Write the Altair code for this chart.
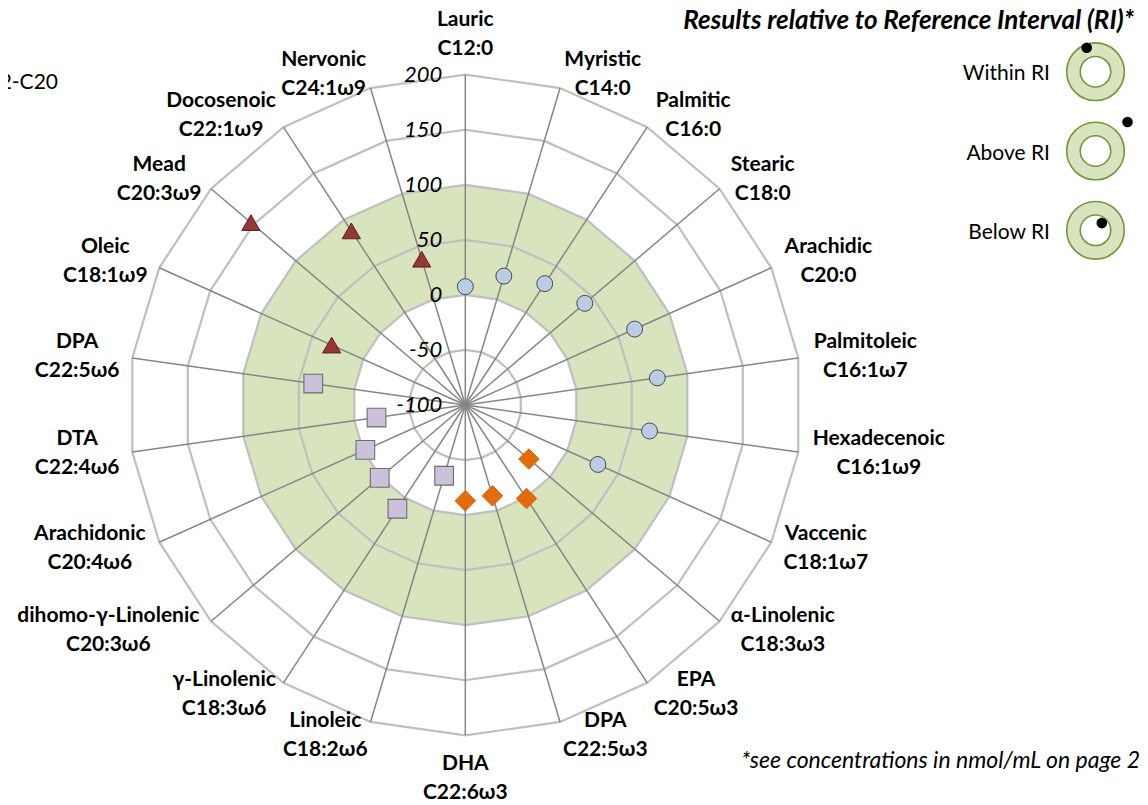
import altair as alt
import pandas as pd

# ---------------- data ----------------
categories = ["Lauric", "Myristic", "Palmitic", "Stearic", "Arachidic", "Palmitoleic",
              "Hexadecenoic", "Vaccenic", "α-Linolenic", "EPA", "DPA", "DHA", "Linoleic",
              "γ-Linolenic", "dihomo-γ-Linolenic", "Arachidonic", "DTA", "DPA", "Oleic",
              "Mead", "Docosenoic", "Nervonic"]
formulas = ["C12:0", "C14:0", "C16:0", "C18:0", "C20:0", "C16:1ω7", "C16:1ω9", "C18:1ω7",
            "C18:3ω3", "C20:5ω3", "C22:5ω3", "C22:6ω3", "C18:2ω6", "C18:3ω6", "C20:3ω6",
            "C20:4ω6", "C22:4ω6", "C22:5ω6", "C18:1ω9", "C20:3ω9", "C22:1ω9", "C24:1ω9"]
values = [7.5, 22, 31, 41, 66, 73, 66, 30,
          -25, 1, -14, -13,
          -33, 12, 1, -2, -20, 37,
          31, 153, 88, 38]
groups = ["SFA", "SFA", "SFA", "SFA", "SFA", "MUFA", "MUFA", "MUFA",
          "ω3", "ω3", "ω3", "ω3",
          "ω6", "ω6", "ω6", "ω6", "ω6", "ω6",
          "ω9", "ω9", "ω9", "ω9"]
ring_values = [-100, -50, 0, 50, 100, 150, 200]
ri_low, ri_high = 0, 100
axis_min, axis_max = -100, 200
legend_labels = ["Within RI", "Above RI", "Below RI"]
legend_title = "Results relative to Reference Interval (RI)*"
footnote = "*see concentrations in nmol/mL on page 2"
side_note = "C12-C20"

N = len(categories)
SPAN = axis_max - axis_min

# ---------------- layout ----------------
W, H = 1132, 797
CX, CY = 465.3 - 8, 405.0 - 8      # centre of the radar in plot pixels
KX, KY = 336.4 / SPAN, 330.3 / SPAN  # px per unit
GAP = 14
LH = 29
FS_LAB = 21

xs = alt.Scale(domain=[-CX / KX, (W - CX) / KX], nice=False, zero=False)
ys = alt.Scale(domain=[-(H - CY) / KY, CY / KY], nice=False, zero=False)


def X(f):
    return alt.X(f, type="quantitative", scale=xs, axis=None)


def Y(f):
    return alt.Y(f, type="quantitative", scale=ys, axis=None)


# approximate advance widths (em) used to centre the two-line labels
CW = {'A': .606, 'C': .529, 'D': .630, 'E': .488, 'H': .631, 'L': .420, 'M': .874,
      'N': .659, 'O': .676, 'P': .532, 'R': .563, 'S': .473, 'T': .495, 'V': .593,
      'a': .494, 'c': .418, 'd': .537, 'e': .503, 'g': .474, 'h': .537, 'i': .246,
      'l': .246, 'm': .813, 'n': .537, 'o': .538, 'r': .355, 's': .399, 't': .347,
      'y': .474, 'u': .537, 'v': .474, 'x': .465, ':': .276, '-': .306, ' ': .226,
      'ω': .76, 'γ': .50, 'α': .58}


def tw(s):
    return sum(CW.get(ch, .507) for ch in s) * 23


th = f"2*PI*datum.k/{N}"

# ---------------- layers ----------------
band_df = pd.DataFrame([(lvl, k) for lvl in [ri_high, ri_low] for k in range(N)],
                       columns=["level", "k"])


def polygon(level, fill):
    return alt.Chart(band_df).transform_filter(f"datum.level == {level}").transform_calculate(
        r=f"datum.level - ({axis_min})", th=th
    ).transform_calculate(
        x="datum.r*sin(datum.th)", y="datum.r*cos(datum.th)"
    ).mark_line(interpolate="linear-closed", fill=fill, strokeOpacity=0).encode(
        x=X("x"), y=Y("y"), order="k:Q"
    )


green = polygon(ri_high, "#d7e4bd")
white = polygon(ri_low, "#ffffff")

ring_df = pd.DataFrame([(lvl, k) for lvl in ring_values for k in range(N)],
                       columns=["level", "k"])
rings = alt.Chart(ring_df).transform_calculate(
    r=f"datum.level - ({axis_min})", th=th
).transform_calculate(
    x="datum.r*sin(datum.th)", y="datum.r*cos(datum.th)"
).mark_line(interpolate="linear-closed", stroke="#bfbfbf", strokeWidth=2.2).encode(
    x=X("x"), y=Y("y"), detail="level:N", order="k:Q"
)

spoke_df = pd.DataFrame({"k": list(range(N))})
spokes = alt.Chart(spoke_df).transform_calculate(
    th=th, xa="0", ya="0"
).transform_calculate(
    xb=f"{SPAN}*sin(datum.th)", yb=f"{SPAN}*cos(datum.th)"
).mark_rule(stroke="#868686", strokeWidth=1.5).encode(
    x=X("xa"), y=Y("ya"), x2="xb:Q", y2="yb:Q"
)

pts_df = pd.DataFrame({"k": list(range(N)), "name": categories, "value": values,
                       "group": groups})
pts_base = alt.Chart(pts_df).transform_calculate(
    r=f"datum.value - ({axis_min})", th=th
).transform_calculate(
    x="datum.r*sin(datum.th)", y="datum.r*cos(datum.th)"
)


def pts(flt, shape, size, fill, stroke, sw):
    return pts_base.transform_filter(flt).mark_point(
        shape=shape, size=size, filled=True, fill=fill, stroke=stroke,
        strokeWidth=sw, opacity=1
    ).encode(x=X("x"), y=Y("y"), tooltip=["name:N", "value:Q"])


circles = pts("datum.group == 'SFA' || datum.group == 'MUFA'", "circle", 254,
              "#b9cde5", "#4a4a4a", 1)
diamonds = pts("datum.group == 'ω3'", "diamond", 420, "#e46c0a", "#d0620a", 1)
squares = pts("datum.group == 'ω6'", "square", 350, "#ccc1da", "#6e6e6e", 1.1)
triangles = pts("datum.group == 'ω9'", "triangle-up", 330, "#953735", "#5e2020", 1)

lab_df = pd.DataFrame({"k": list(range(N)), "name": categories, "formula": formulas})
lab_df["text"] = [a + "\n" + b for a, b in zip(categories, formulas)]
lab_df["w"] = [max(tw(a), tw(b)) for a, b in zip(categories, formulas)]
labels = alt.Chart(lab_df).transform_calculate(
    th=th
).transform_calculate(
    s="sin(datum.th)", c="cos(datum.th)"
).transform_calculate(
    ax=f"{SPAN}*datum.s + {GAP}*datum.s/{KX}",
    ay=f"{SPAN}*datum.c + {GAP}*datum.c/{KY}",
    side="abs(datum.s) < 0.01 ? 0 : (datum.s > 0 ? 1 : -1)",
).transform_calculate(
    lx=f"datum.ax + datum.side*datum.w/2/{KX}",
    # first line sits half a line above the block centre
    ly=f"datum.ay + {LH / 2}/{KY} + (datum.c > 0.99 ? {LH - 3}/{KY} : (datum.c < -0.99 ? -{LH}/{KY} : 0))",
).mark_text(
    align="center", baseline="middle", lineBreak="\n", lineHeight=LH,
    font="Lato", fontWeight="bold", fontSize=FS_LAB, color="#000000"
).encode(x=X("lx"), y=Y("ly"), text="text:N")

tick_df = pd.DataFrame({"level": ring_values})
ticks = alt.Chart(tick_df).transform_calculate(
    x0="0", y0=f"datum.level - ({axis_min})", lab="''+datum.level"
).mark_text(
    align="right", baseline="middle", dx=-23, font="Lato", fontStyle="italic",
    fontSize=22, color="#000000"
).encode(x=X("x0"), y=Y("y0"), text="lab:N")

# ---------------- legend / notes ----------------
one = pd.DataFrame({"a": [0]})
extras = []
extras.append(alt.Chart(pd.DataFrame({"t": [legend_title]})).mark_text(
    align="right", baseline="alphabetic", font="Lato", fontStyle="italic",
    fontWeight="bold", fontSize=26, color="#000000"
).encode(x=alt.value(1126), y=alt.value(21), text="t:N"))
extras.append(alt.Chart(pd.DataFrame({"t": [footnote]})).mark_text(
    align="right", baseline="alphabetic", font="Lato", fontStyle="italic",
    fontSize=23, color="#000000"
).encode(x=alt.value(1132), y=alt.value(760), text="t:N"))
extras.append(alt.Chart(pd.DataFrame({"t": [side_note]})).mark_text(
    align="right", baseline="alphabetic", font="Lato", fontSize=21, color="#000000"
).encode(x=alt.value(50), y=alt.value(81), text="t:N"))

dot_off = [(-8.8, -24.0), (32.0, -29.0), (6.3, -7.2)]
for i, lab in enumerate(legend_labels):
    cx, cy = 1095.5 - 8, 71.7 - 8 + 79.3 * i
    extras.append(alt.Chart(one).mark_point(
        shape="circle", size=3318, filled=True, fill="#d7e4bd", stroke="#77933c",
        strokeWidth=1.6, opacity=1).encode(x=alt.value(cx), y=alt.value(cy)))
    extras.append(alt.Chart(one).mark_point(
        shape="circle", size=930, filled=True, fill="#ffffff", stroke="#77933c",
        strokeWidth=1.6, opacity=1).encode(x=alt.value(cx), y=alt.value(cy)))
    extras.append(alt.Chart(one).mark_point(
        shape="circle", size=113, filled=True, fill="#000000", opacity=1).encode(
        x=alt.value(cx + dot_off[i][0]), y=alt.value(cy + dot_off[i][1])))
    extras.append(alt.Chart(pd.DataFrame({"t": [lab]})).mark_text(
        align="right", baseline="alphabetic", font="Lato", fontSize=21,
        color="#000000").encode(x=alt.value(1050 - 8), y=alt.value(80.3 - 8 + 79.3 * i),
                                text="t:N"))

chart = alt.layer(
    green, white, rings, spokes, circles, diamonds, squares, triangles,
    labels, ticks, *extras
).properties(
    width=W, height=H, padding=0, autosize="none", background="#ffffff"
).configure_view(stroke="transparent")

chart.save("out.html", embed_options={"renderer": "svg", "actions": False})
